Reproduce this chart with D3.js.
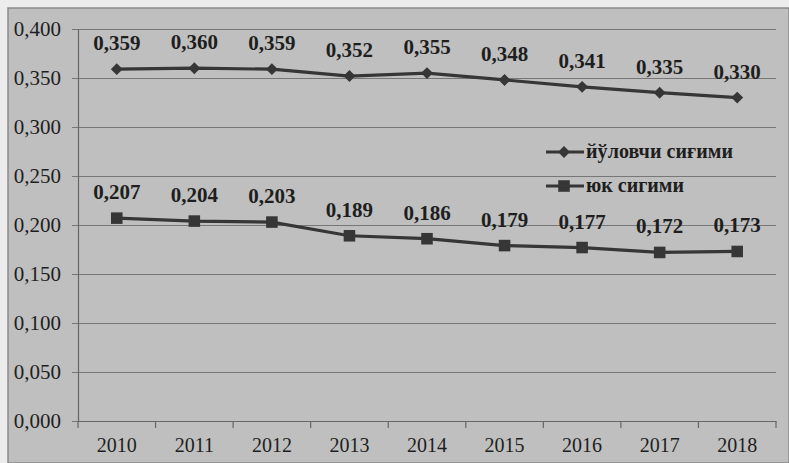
<!DOCTYPE html>
<html>
<head>
<meta charset="utf-8">
<script src="https://cdn.jsdelivr.net/npm/d3@7"></script>
<style>
  html, body { margin: 0; padding: 0; background: #ececec; }
  #chart { width: 789px; height: 463px; }
  svg text { font-family: "Liberation Serif", "DejaVu Serif", serif; fill: #1e1e1e; }
</style>
</head>
<body>
<div id="chart"></div>
<script>
"use strict";

const years = ["2010", "2011", "2012", "2013", "2014", "2015", "2016", "2017", "2018"];
const passenger = [0.359, 0.360, 0.359, 0.352, 0.355, 0.348, 0.341, 0.335, 0.330];
const cargo = [0.207, 0.204, 0.203, 0.189, 0.186, 0.179, 0.177, 0.172, 0.173];
const yTicks = [0, 0.05, 0.1, 0.15, 0.2, 0.25, 0.3, 0.35, 0.4];
const seriesNames = ["йўловчи сиғими", "юк сигими"];

const W = 789, H = 463;
const plotLeft = 78, plotRight = 776, plotTop = 29, plotBottom = 421;
const lineColor = "#363636";

const fmt = v => d3.format(".3f")(v).replace(".", ",");

const svg = d3.select("#chart")
  .append("svg")
  .attr("width", W)
  .attr("height", H);

// scanned page background
svg.append("rect")
  .attr("x", 8).attr("y", 8)
  .attr("width", W - 8).attr("height", H - 8)
  .attr("fill", "#bfbfbf")
  .attr("stroke", "#8a8a8a")
  .attr("stroke-width", 1.5);

const xScale = d3.scaleBand()
  .domain(years)
  .range([plotLeft, plotRight])
  .padding(0);

const yScale = d3.scaleLinear()
  .domain([0, 0.4])
  .range([plotBottom, plotTop]);

// gridlines
svg.append("g")
  .attr("transform", `translate(${plotLeft - 6}, 0)`)
  .call(d3.axisLeft(yScale).tickValues(yTicks).tickSize(-(plotRight - plotLeft + 6)).tickFormat(""))
  .call(g => g.select(".domain").remove())
  .call(g => g.selectAll("line").attr("stroke", "#777").attr("stroke-width", 1.2));

// y axis
svg.append("g")
  .attr("transform", `translate(${plotLeft}, 0)`)
  .call(d3.axisLeft(yScale).tickValues(yTicks).tickFormat(fmt).tickSize(0).tickPadding(17))
  .call(g => g.select(".domain").attr("stroke", "#666").attr("stroke-width", 1.2))
  .call(g => g.selectAll("text").attr("font-size", "21px"));

// x axis
const xAxis = svg.append("g")
  .attr("transform", `translate(0, ${plotBottom})`)
  .call(d3.axisBottom(xScale).tickSize(0).tickPadding(17))
  .call(g => g.select(".domain").attr("stroke", "#666").attr("stroke-width", 1.2))
  .call(g => g.selectAll("text").attr("font-size", "20px"));

const lastEdge = xScale(years[years.length - 1]) + xScale.bandwidth();
const edges = years.map(y => xScale(y)).concat([lastEdge]);

xAxis.selectAll("line.bnd")
  .data(edges)
  .enter()
  .append("line")
  .attr("class", "bnd")
  .attr("x1", d => d)
  .attr("x2", d => d)
  .attr("y1", 0)
  .attr("y2", 7)
  .attr("stroke", "#666")
  .attr("stroke-width", 1.2);

const cx = d => xScale(d) + xScale.bandwidth() / 2;

function drawSeries(values, marker) {
  const pts = years.map((y, i) => ({ year: y, v: values[i] }));
  const line = d3.line().x(d => cx(d.year)).y(d => yScale(d.v));

  svg.append("path")
    .datum(pts)
    .attr("d", line)
    .attr("fill", "none")
    .attr("stroke", lineColor)
    .attr("stroke-width", 3.2);

  svg.append("g")
    .selectAll("path")
    .data(pts)
    .enter()
    .append("path")
    .attr("transform", d => `translate(${cx(d.year)}, ${yScale(d.v)})`)
    .attr("d", marker)
    .attr("fill", lineColor);

  svg.append("g")
    .selectAll("text")
    .data(pts)
    .enter()
    .append("text")
    .attr("x", d => cx(d.year))
    .attr("y", d => yScale(d.v) - 19)
    .attr("text-anchor", "middle")
    .attr("font-size", "21px")
    .attr("font-weight", "bold")
    .text(d => fmt(d.v));
}

const diamond = d3.symbol().type(d3.symbolDiamond2).size(90)();
const square = d3.symbol().type(d3.symbolSquare2).size(170)();

drawSeries(passenger, diamond);
drawSeries(cargo, square);

// legend
const legend = svg.append("g");
const legendItems = [
  { name: seriesNames[0], marker: diamond, y: 152 },
  { name: seriesNames[1], marker: square, y: 186 }
];

legendItems.forEach(it => {
  legend.append("line")
    .attr("x1", 546).attr("x2", 584)
    .attr("y1", it.y).attr("y2", it.y)
    .attr("stroke", lineColor)
    .attr("stroke-width", 3);
  legend.append("path")
    .attr("transform", `translate(564, ${it.y})`)
    .attr("d", it.marker)
    .attr("fill", lineColor);
  legend.append("text")
    .attr("x", 586)
    .attr("y", it.y + 6)
    .attr("font-size", "20px")
    .attr("font-weight", "bold")
    .attr("textLength", it.name.length > 10 ? 147 : null)
    .text(it.name);
});
</script>
</body>
</html>
